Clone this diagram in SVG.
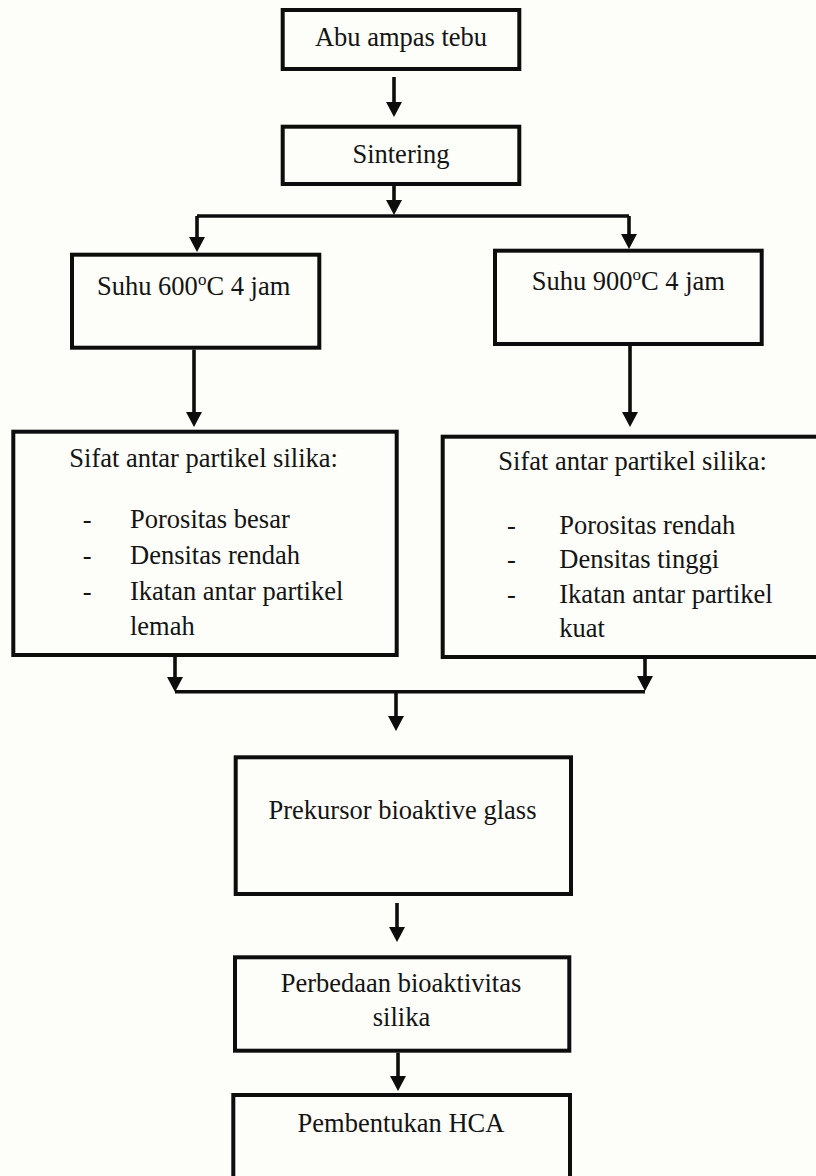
<svg xmlns="http://www.w3.org/2000/svg" width="816" height="1176" viewBox="0 0 816 1176">
<style>
.box{fill:none;stroke:#0d0d0d;stroke-width:4}
.t{font-family:"Liberation Serif","Times New Roman",serif;font-size:26.5px;fill:#141414}
.c{text-anchor:middle}
.ln{fill:none;stroke:#0d0d0d;stroke-width:3.6}
.ar{fill:none;stroke:#0d0d0d;stroke-width:3.6;marker-end:url(#ah)}
</style>
<defs>
<marker id="ah" markerUnits="userSpaceOnUse" viewBox="0 0 15 16" markerWidth="15" markerHeight="16" refX="9" refY="8" orient="auto">
<path d="M0,0 L15,8 L0,16 z" fill="#0d0d0d"/>
</marker>
</defs>
<rect width="816" height="1176" fill="#fdfdf9"/>
<g id="n1"><rect class="box" x="282.7" y="10" width="236.6" height="59"/><text class="t c" x="401" y="46">Abu ampas tebu</text></g>
<g id="n2"><rect class="box" x="282.7" y="126.7" width="236.6" height="57.3"/><text class="t c" x="401" y="163">Sintering</text></g>
<g id="n3"><rect class="box" x="72" y="254.7" width="247.3" height="93"/><text class="t" x="97" y="295">Suhu 600<tspan font-size="17" dy="-10">o</tspan><tspan dy="10">C 4 jam</tspan></text></g>
<g id="n4"><rect class="box" x="495" y="250.7" width="266.7" height="93.3"/><text class="t" x="531.7" y="290">Suhu 900<tspan font-size="17" dy="-10">o</tspan><tspan dy="10">C 4 jam</tspan></text></g>
<g id="n5"><rect class="box" x="13.3" y="431.7" width="383.4" height="223.3"/>
<text class="t" x="69.3" y="467.3">Sifat antar partikel silika:</text>
<text class="t" x="82.7" y="527.7">-</text><text class="t" x="130" y="527.7">Porositas besar</text>
<text class="t" x="82.7" y="564.3">-</text><text class="t" x="130" y="564.3">Densitas rendah</text>
<text class="t" x="82.7" y="600">-</text><text class="t" x="130" y="600">Ikatan antar partikel</text>
<text class="t" x="130" y="635">lemah</text></g>
<g id="n6"><rect class="box" x="442.7" y="436.7" width="380" height="220.3"/>
<text class="t" x="498.3" y="470">Sifat antar partikel silika:</text>
<text class="t" x="507" y="534">-</text><text class="t" x="559.3" y="534">Porositas rendah</text>
<text class="t" x="507" y="568.3">-</text><text class="t" x="559.3" y="568.3">Densitas tinggi</text>
<text class="t" x="507" y="602.7">-</text><text class="t" x="559.3" y="602.7">Ikatan antar partikel</text>
<text class="t" x="559.3" y="636.7">kuat</text></g>
<g id="n7"><rect class="box" x="235.7" y="757.3" width="335.3" height="136.7"/><text class="t c" x="402.5" y="819.3">Prekursor bioaktive glass</text></g>
<g id="n8"><rect class="box" x="235" y="957.3" width="334.3" height="93.4"/><text class="t c" x="401" y="991.7">Perbedaan bioaktivitas</text><text class="t c" x="401.5" y="1026">silika</text></g>
<g id="n9"><rect class="box" x="233.3" y="1095" width="336.7" height="110"/><text class="t c" x="401" y="1131.7">Pembentukan HCA</text></g>
<g id="connectors">
<path class="ar" d="M394,77 V111"/>
<path class="ar" d="M394,186 V209"/>
<path class="ln" d="M197,216 H629"/>
<path class="ar" d="M197,216 V246"/>
<path class="ar" d="M629,216 V243"/>
<path class="ar" d="M194,349.7 V421"/>
<path class="ar" d="M630,346 V421"/>
<path class="ar" d="M175,657 V686"/>
<path class="ar" d="M645,659 V685"/>
<path class="ln" d="M175,691.7 H645"/>
<path class="ar" d="M396,691.7 V725"/>
<path class="ar" d="M397,903 V936"/>
<path class="ar" d="M398,1052.7 V1085"/>
</g>
</svg>
